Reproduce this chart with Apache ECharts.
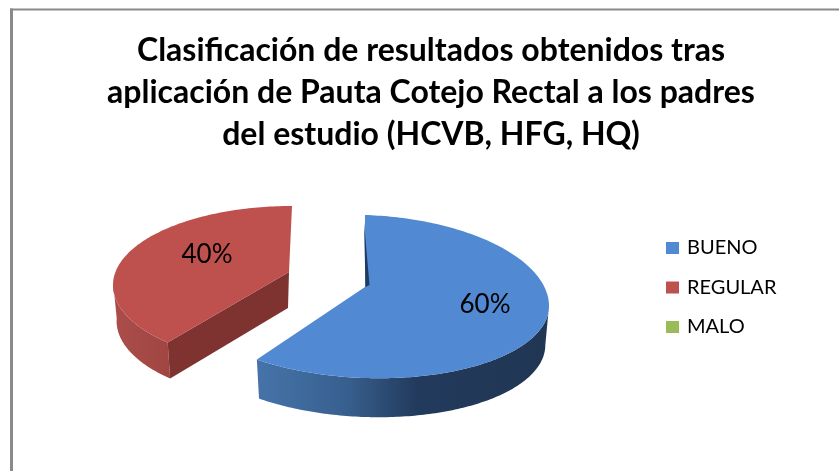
<!DOCTYPE html>
<html>
<head>
<meta charset="utf-8">
<style>html,body{margin:0;padding:0;background:#fff}#c{width:839px;height:471px}</style>
<script src="https://cdn.jsdelivr.net/npm/echarts@6/dist/echarts.min.js"></script>
</head>
<body>
<div id="c"></div>
<script>
const categories = ['BUENO', 'REGULAR', 'MALO'];
const percentages = [60, 40, 0];
const titleLines = [
  'Clasificación de resultados obtenidos tras',
  'aplicación de Pauta Cotejo Rectal a los padres',
  'del estudio (HCVB, HFG, HQ)'
];
const colors = ['#5289d3', '#be504e', '#9bbb59'];

const total = percentages.reduce((a, b) => a + b, 0);

// Drawing geometry of the perspective pie (exploded slices), not data
const geometry = {
  BUENO: {
    cx: 365, cy: 300, a: 184, bBack: 85, bFront: 78, tilt: 6, depth: 39,
    apex: [365, 287], trimStart: 0, trimEnd: 0, wallFrom: 90,
    wallFill: { type: 'linear', x: 258, y: 0, x2: 549, y2: 0, global: true, colorStops: [
      { offset: 0, color: '#4573a9' }, { offset: 0.3, color: '#38608f' },
      { offset: 0.55, color: '#223a5c' }, { offset: 1, color: '#203653' }] },
    cutColor: '#1f3b63', labelPos: [485, 305], sliver: [[364, 222], [369.5, 285], [365.5, 287]]
  },
  REGULAR: {
    cx: 292, cy: 285, a: 179, bBack: 79, bFront: 80, tilt: 0, depth: 36,
    apex: [289, 272], trimStart: 8, trimEnd: 0, wallTo: 272,
    wallFill: { type: 'linear', x: 113, y: 0, x2: 170, y2: 0, global: true, colorStops: [
      { offset: 0, color: '#ab4e4b' }, { offset: 1, color: '#a04542' }] },
    cutColor: '#7f3331', labelPos: [207, 255]
  }
};

function pt(g, deg, scale, dy) {
  const r = deg * Math.PI / 180, s = Math.sin(r), c = Math.cos(r);
  const b = c < 0 ? g.bFront : g.bBack;
  return [g.cx + g.a * s * scale, g.cy - c * b + g.tilt * s + dy];
}
function arc(g, from, to, scale, dy) {
  const n = Math.max(2, Math.ceil(Math.abs(to - from))), out = [];
  for (let i = 0; i <= n; i++) out.push(pt(g, from + (to - from) * i / n, scale, dy));
  return out;
}

function makeRender(idx) {
  return function (params, api) {
    const v = api.value(0);
    if (!v) return null;
    const g = geometry[categories[idx]];
    let before = 0;
    for (let i = 0; i < idx; i++) before += percentages[i];
    const d0 = before / total * 360 + g.trimStart;
    const d1 = (before + v) / total * 360 + g.trimEnd;
    const children = [];
    // outer wall
    const wFrom = Math.max(d0, g.wallFrom === undefined ? d0 : g.wallFrom);
    const wTo = Math.min(d1, g.wallTo === undefined ? d1 : g.wallTo);
    const wallPts = arc(g, wFrom, wTo, 1, 0).concat(arc(g, wTo, wFrom, 0.98, g.depth));
    children.push({ type: 'polygon', shape: { points: wallPts }, style: { fill: g.wallFill }, z2: 1 });
    // cut face towards the centre
    if (g.cutColor && !g.sliver) {
      const corner = pt(g, d0, 1, 0), cornerB = pt(g, d0, 0.98, g.depth);
      children.push({ type: 'polygon', shape: { points: [g.apex, corner, cornerB, [g.apex[0] - 1, g.apex[1] + g.depth]] },
        style: { fill: g.cutColor }, z2: 2 });
    }
    // top face
    const facePts = [g.apex].concat(arc(g, d0, d1, 1, 0));
    children.push({ type: 'polygon', shape: { points: facePts }, style: { fill: colors[idx] }, z2: 3 });
    if (g.sliver) {
      children.push({ type: 'polygon', shape: { points: g.sliver }, style: { fill: g.cutColor }, z2: 4 });
    }
    children.push({ type: 'text', x: g.labelPos[0], y: g.labelPos[1], z2: 5,
      style: { text: Math.round(v / total * 100) + '%', fill: '#000', font: '26px Lato', align: 'center', verticalAlign: 'middle' } });
    return { type: 'group', children };
  };
}

const chart = echarts.init(document.getElementById('c'), null, { renderer: 'canvas' });
chart.setOption({
  animation: false,
  backgroundColor: '#fff',
  color: colors,
  title: {
    text: titleLines.join('\n'),
    left: 426, top: 25, textAlign: 'center',
    textStyle: { fontFamily: 'Lato', fontWeight: 'bold', fontSize: 32, lineHeight: 42, color: '#000' }
  },
  legend: {
    data: categories, orient: 'vertical', left: 666, top: 238, padding: 0,
    icon: 'rect', itemWidth: 13, itemHeight: 12, itemGap: 19.5,
    textStyle: { fontFamily: 'Lato', fontSize: 20, lineHeight: 16, color: '#000', padding: [0, 0, 0, 3] }
  },
  graphic: [
    { type: 'line', silent: true, shape: { x1: 11.5, y1: 471, x2: 11.5, y2: 8.5 },
      style: { stroke: '#8a8a8a', lineWidth: 3 } },
    { type: 'line', silent: true, shape: { x1: 10, y1: 9.5, x2: 839, y2: 9.5 },
      style: { stroke: '#8a8a8a', lineWidth: 2 } }
  ],
  series: categories.map((name, i) => ({
    type: 'custom', name, coordinateSystem: 'none',
    itemStyle: { color: colors[i] },
    renderItem: makeRender(i),
    data: [[percentages[i]]]
  }))
});
</script>
</body>
</html>
